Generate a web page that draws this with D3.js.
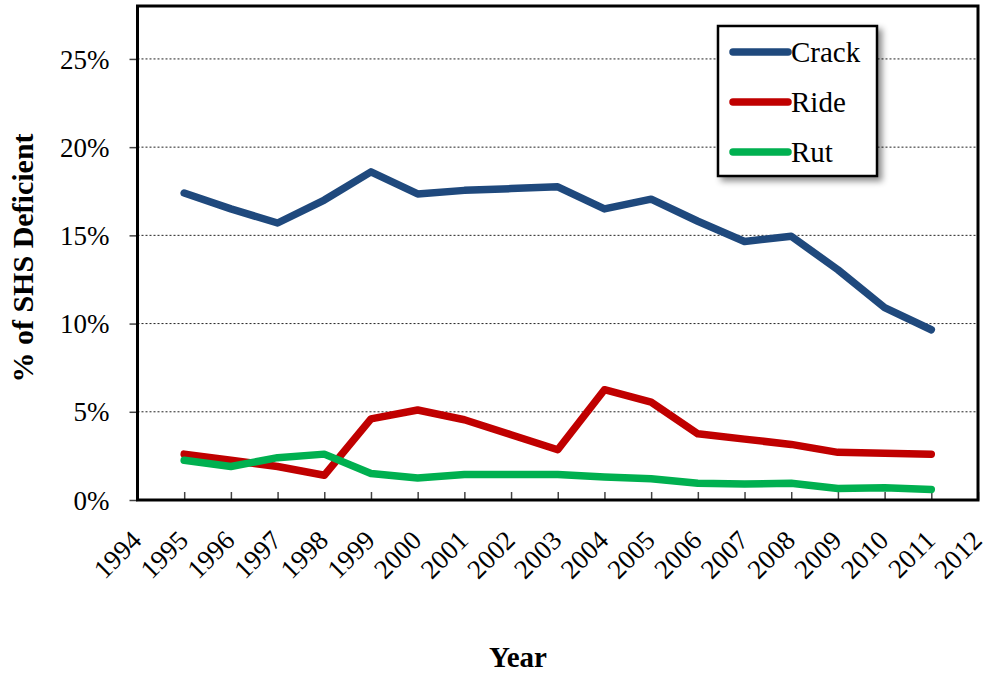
<!DOCTYPE html>
<html>
<head>
<meta charset="utf-8">
<script src="https://cdn.jsdelivr.net/npm/d3@7"></script>
<style>
  body { margin: 0; background: #fff; }
  text { font-family: "Liberation Serif", "Times New Roman", serif; }
</style>
</head>
<body>
<script>
const years = [1995, 1996, 1997, 1998, 1999, 2000, 2001, 2002, 2003, 2004, 2005, 2006, 2007, 2008, 2009, 2010, 2011];
const crack = [17.4, 16.5, 15.7, 17.0, 18.6, 17.35, 17.55, 17.65, 17.75, 16.5, 17.05, 15.8, 14.65, 14.95, 13.05, 10.9, 9.65];
const ride = [2.6, 2.25, 1.9, 1.4, 4.6, 5.1, 4.55, 3.7, 2.85, 6.25, 5.55, 3.75, 3.45, 3.15, 2.7, 2.65, 2.6];
const rut = [2.25, 1.9, 2.4, 2.6, 1.5, 1.25, 1.45, 1.45, 1.45, 1.3, 1.2, 0.95, 0.9, 0.95, 0.65, 0.7, 0.6];
const seriesNames = ["Crack", "Ride", "Rut"];
const yTicks = [0, 5, 10, 15, 20, 25];
const xTicks = d3.range(1994, 2013);

const colors = { Crack: "#1F497D", Ride: "#C00000", Rut: "#00B050" };
const seriesData = { Crack: crack, Ride: ride, Rut: rut };

const width = 987, height = 675;
const margin = { left: 137.5, right: 9, top: 6, bottom: 175 };

const svg = d3.select("body").append("svg")
    .attr("width", width)
    .attr("height", height);

const x = d3.scaleLinear()
    .domain([1994, 2012])
    .range([margin.left, width - margin.right]);

const y = d3.scaleLinear()
    .domain([0, 28])
    .range([height - margin.bottom, margin.top]);

// gridlines
svg.append("g")
    .selectAll("line")
    .data(yTicks.filter(d => d > 0))
    .join("line")
    .attr("x1", margin.left)
    .attr("x2", width - margin.right)
    .attr("y1", d => y(d))
    .attr("y2", d => y(d))
    .attr("stroke", "#222")
    .attr("stroke-width", 1)
    .attr("stroke-dasharray", "2,2");

// y axis
const yAxis = svg.append("g")
    .attr("transform", `translate(${margin.left},0)`)
    .call(d3.axisLeft(y).tickValues(yTicks).tickSize(8).tickFormat(d => d + "%"));
yAxis.select(".domain").remove();
yAxis.selectAll(".tick line").attr("stroke", "#444").attr("stroke-width", 1.5);
yAxis.selectAll(".tick text")
    .attr("font-size", 27)
    .attr("fill", "#000")
    .attr("x", -28)
    .attr("dy", "0.34em");

// x axis
const xAxis = svg.append("g")
    .attr("transform", `translate(0,${y(0)})`)
    .call(d3.axisBottom(x).tickValues(xTicks).tickSize(-8).tickFormat(d3.format("d")));
xAxis.select(".domain").remove();
xAxis.selectAll(".tick line").attr("stroke", "#444").attr("stroke-width", 1.5);
xAxis.selectAll(".tick text")
    .attr("font-size", 27)
    .attr("fill", "#000")
    .attr("text-anchor", "end")
    .attr("transform", "translate(5,42) rotate(-45)")
    .attr("y", 0)
    .attr("dy", 0);

// plot frame
svg.append("rect")
    .attr("x", margin.left)
    .attr("y", margin.top)
    .attr("width", width - margin.right - margin.left)
    .attr("height", y(0) - margin.top)
    .attr("fill", "none")
    .attr("stroke", "#000")
    .attr("stroke-width", 3);

// lines
const line = d3.line()
    .x((d, i) => x(years[i]))
    .y(d => y(d));

seriesNames.forEach(name => {
    svg.append("path")
        .datum(seriesData[name])
        .attr("d", line)
        .attr("fill", "none")
        .attr("stroke", colors[name])
        .attr("stroke-width", 7.5)
        .attr("stroke-linecap", "round")
        .attr("stroke-linejoin", "round");
});

// legend
const defs = svg.append("defs");
const filter = defs.append("filter").attr("id", "shadow")
    .attr("x", "-10%").attr("y", "-10%").attr("width", "130%").attr("height", "130%");
filter.append("feDropShadow")
    .attr("dx", 4).attr("dy", 4).attr("stdDeviation", 3)
    .attr("flood-color", "#000").attr("flood-opacity", 0.45);

const legend = svg.append("g").attr("transform", "translate(718,26)");
legend.append("rect")
    .attr("width", 159)
    .attr("height", 150)
    .attr("fill", "#fff")
    .attr("stroke", "#000")
    .attr("stroke-width", 2.5)
    .attr("filter", "url(#shadow)");

seriesNames.forEach((name, i) => {
    const ly = 26 + i * 50;
    legend.append("line")
        .attr("x1", 15).attr("x2", 70)
        .attr("y1", ly).attr("y2", ly)
        .attr("stroke", colors[name])
        .attr("stroke-width", 7.5)
        .attr("stroke-linecap", "round");
    legend.append("text")
        .attr("x", 73)
        .attr("y", ly)
        .attr("dy", "0.33em")
        .attr("font-size", 29)
        .text(name);
});

// axis titles
svg.append("text")
    .attr("transform", `translate(33,${(margin.top + y(0)) / 2 + 5}) rotate(-90)`)
    .attr("text-anchor", "middle")
    .attr("font-size", 30)
    .attr("font-weight", "bold")
    .text("% of SHS Deficient");

svg.append("text")
    .attr("x", 518)
    .attr("y", 667)
    .attr("text-anchor", "middle")
    .attr("font-size", 29)
    .attr("font-weight", "bold")
    .text("Year");
</script>
</body>
</html>
